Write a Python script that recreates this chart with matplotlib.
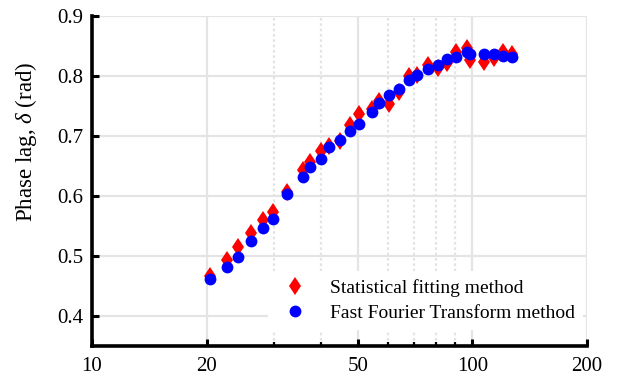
import matplotlib
matplotlib.use("Agg")
import matplotlib.pyplot as plt
from matplotlib.ticker import FixedLocator, NullFormatter, FixedFormatter

plt.rcParams['font.family'] = ['Liberation Serif', 'DejaVu Serif']
plt.rcParams['mathtext.fontset'] = 'custom'
plt.rcParams['mathtext.it'] = 'Liberation Serif:italic'
plt.rcParams['mathtext.rm'] = 'Liberation Serif'

freq = [20.4, 22.6, 24.2, 26.1, 28.1, 29.9, 32.5, 35.9, 37.4, 40.0, 42.0, 44.9,
        47.6, 50.3, 54.3, 56.9, 60.4, 64.2, 68.1, 71.6, 76.3, 81.3, 85.9, 90.5,
        96.5, 98.5, 107.4, 113.9, 120.5, 127.3]
fft_vals = [0.461, 0.482, 0.499, 0.525, 0.546, 0.561, 0.603, 0.632, 0.648, 0.661,
            0.681, 0.693, 0.709, 0.720, 0.740, 0.755, 0.769, 0.779, 0.794, 0.802,
            0.811, 0.819, 0.828, 0.831, 0.840, 0.836, 0.837, 0.837, 0.834, 0.831]
stat_vals = [0.466, 0.494, 0.515, 0.539, 0.560, 0.574, 0.607, 0.643, 0.657, 0.675,
             0.683, 0.692, 0.718, 0.736, 0.745, 0.758, 0.754, 0.773, 0.800, 0.801,
             0.819, 0.814, 0.822, 0.840, 0.846, 0.827, 0.824, 0.830, 0.840, 0.836]

x_major = [10, 20, 50, 100, 200]
x_minor = [30, 40, 60, 70, 80, 90]
y_ticks = [0.4, 0.5, 0.6, 0.7, 0.8, 0.9]

fig = plt.figure(figsize=(6.17, 3.8), dpi=100)
ax = fig.add_axes([92/617, 34/380, 495/617, 330/380])
ax.set_xscale('log')
ax.set_xlim(10, 200)
ax.set_ylim(0.35, 0.9)

ax.xaxis.set_major_locator(FixedLocator(x_major))
ax.xaxis.set_major_formatter(FixedFormatter([str(v) for v in x_major]))
ax.xaxis.set_minor_locator(FixedLocator(x_minor))
ax.xaxis.set_minor_formatter(NullFormatter())
ax.set_yticks(y_ticks)
ax.set_yticklabels([f"{v:.1f}" for v in y_ticks])

ax.grid(True, which='major', color='#e4e4e4', lw=1.6, ls='-', zorder=0)
ax.grid(True, which='minor', axis='x', color='#e4e4e4', lw=1.6, ls=(0, (1.2, 1.2)), zorder=0)
ax.set_axisbelow(True)

for s in ['top', 'right']:
    ax.spines[s].set_visible(False)
for s in ['left', 'bottom']:
    ax.spines[s].set_linewidth(2.6)

ax.tick_params(which='major', direction='in', length=5, width=2.2, labelsize=15, pad=6)
ax.tick_params(axis='x', which='major', pad=8)
ax.tick_params(which='minor', direction='in', length=3, width=1.6)
ax.tick_params(axis='y', which='minor', left=False)

ax.plot(freq, stat_vals, ls='none', marker='d', color='red', markersize=9.5,
        markeredgewidth=0, label='Statistical fitting method', zorder=3)
ax.plot(freq, fft_vals, ls='none', marker='o', color='blue', markersize=8.5,
        markeredgewidth=0, label='Fast Fourier Transform method', zorder=4)

ax.set_ylabel(r'Phase lag, $\delta$ (rad)', fontsize=16.5)
ax.yaxis.set_label_coords(-0.107, 0.618)

leg = ax.legend(loc='lower left', bbox_to_anchor=(0.356, 0.049), frameon=True,
                fancybox=False, framealpha=1, edgecolor='none', facecolor='white',
                fontsize=14, handletextpad=0.8, borderaxespad=0, labelspacing=0.4,
                handlelength=2.0, borderpad=0.4)
leg.set_zorder(2)

fig.savefig('out.png', dpi=100)
